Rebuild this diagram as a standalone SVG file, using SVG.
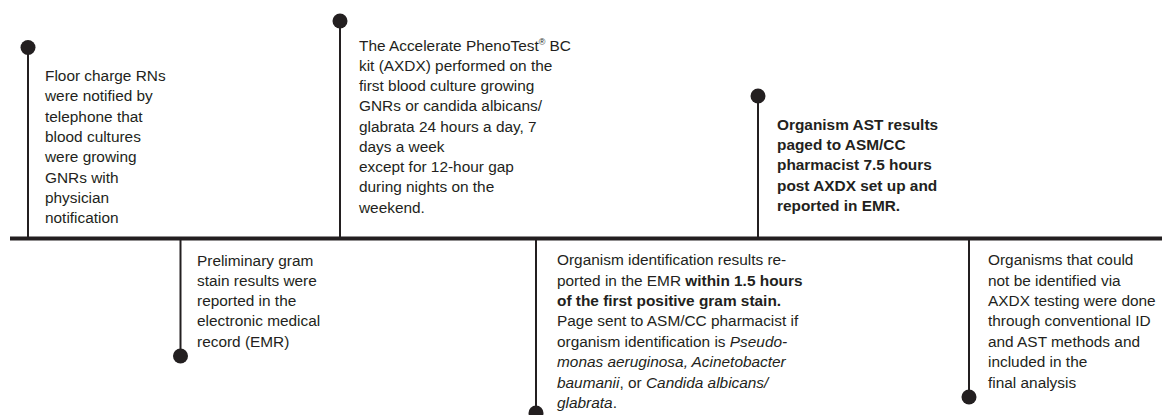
<svg xmlns="http://www.w3.org/2000/svg" width="1162" height="415" viewBox="0 0 1162 415">
<style>
.t{font-family:"Liberation Sans",Arial,sans-serif;font-size:15.4px;fill:#231f20}
.b{font-weight:bold}
.i{font-style:italic}
.stem{stroke:#231f20;stroke-width:2;fill:none}
.dot{fill:#231f20}
.axis{stroke:#231f20;stroke-width:4;fill:none}
</style>
<rect width="1162" height="415" fill="#fff"/>
<g id="connectors">
<line class="axis" x1="10" y1="238.5" x2="1162" y2="238.5"/>
<line class="stem" x1="28" y1="47.5" x2="28" y2="238.5"/>
<line class="stem" x1="180.5" y1="238.5" x2="180.5" y2="356"/>
<line class="stem" x1="340" y1="21" x2="340" y2="238.5"/>
<line class="stem" x1="758" y1="96" x2="758" y2="238.5"/>
<line class="stem" x1="536" y1="238.5" x2="536" y2="413"/>
<line class="stem" x1="969" y1="238.5" x2="969" y2="397"/>
</g>
<g id="node1">
<circle class="dot" cx="28" cy="47.5" r="7.5"/>
<text class="t" x="45" y="81">
<tspan x="45" y="81">Floor charge RNs</tspan>
<tspan x="45" y="101.3">were notified by</tspan>
<tspan x="45" y="121.6">telephone that</tspan>
<tspan x="45" y="141.9">blood cultures</tspan>
<tspan x="45" y="162.2">were growing</tspan>
<tspan x="45" y="182.5">GNRs with</tspan>
<tspan x="45" y="202.8">physician</tspan>
<tspan x="45" y="223.1">notification</tspan>
</text>
</g>
<g id="node2">
<circle class="dot" cx="180.5" cy="356" r="7.5"/>
<text class="t">
<tspan x="197" y="265.5">Preliminary gram</tspan>
<tspan x="197" y="285.8">stain results were</tspan>
<tspan x="197" y="306.1">reported in the</tspan>
<tspan x="197" y="326.4">electronic medical</tspan>
<tspan x="197" y="346.7">record (EMR)</tspan>
</text>
</g>
<g id="node3">
<circle class="dot" cx="340" cy="21" r="7.5"/>
<text class="t">
<tspan x="359" y="50.5">The Accelerate PhenoTest<tspan font-size="9" dy="-6">®</tspan><tspan dy="6"> BC</tspan></tspan>
<tspan x="359" y="70.75">kit (AXDX) performed on the</tspan>
<tspan x="359" y="91">first blood culture growing</tspan>
<tspan x="359" y="111.25">GNRs or candida albicans/</tspan>
<tspan x="359" y="131.5">glabrata 24 hours a day, 7</tspan>
<tspan x="359" y="151.75">days a week</tspan>
<tspan x="359" y="172">except for 12-hour gap</tspan>
<tspan x="359" y="192.25">during nights on the</tspan>
<tspan x="359" y="212.5">weekend.</tspan>
</text>
</g>
<g id="node4">
<circle class="dot" cx="758" cy="96" r="7.5"/>
<text class="t b">
<tspan x="777" y="129.5">Organism AST results</tspan>
<tspan x="777" y="149.9">paged to ASM/CC</tspan>
<tspan x="777" y="170.3">pharmacist 7.5 hours</tspan>
<tspan x="777" y="190.7">post AXDX set up and</tspan>
<tspan x="777" y="211.1">reported in EMR.</tspan>
</text>
</g>
<g id="node5">
<circle class="dot" cx="536" cy="413" r="7.5"/>
<text class="t">
<tspan x="557" y="265.2">Organism identification results re-</tspan>
<tspan x="557" y="285.6">ported in the EMR <tspan class="b">within 1.5 hours</tspan></tspan>
<tspan x="557" y="306" class="b">of the first positive gram stain.</tspan>
<tspan x="557" y="326.4">Page sent to ASM/CC pharmacist if</tspan>
<tspan x="557" y="346.8">organism identification is <tspan class="i">Pseudo-</tspan></tspan>
<tspan x="557" y="367.2" class="i">monas aeruginosa, Acinetobacter</tspan>
<tspan x="557" y="387.6"><tspan class="i">baumanii</tspan>, or <tspan class="i">Candida albicans/</tspan></tspan>
<tspan x="557" y="408"><tspan class="i">glabrata</tspan>.</tspan>
</text>
</g>
<g id="node6">
<circle class="dot" cx="969" cy="397" r="7.5"/>
<text class="t">
<tspan x="988" y="265.2">Organisms that could</tspan>
<tspan x="988" y="285.6">not be identified via</tspan>
<tspan x="988" y="306">AXDX testing were done</tspan>
<tspan x="988" y="326.4">through conventional ID</tspan>
<tspan x="988" y="346.8">and AST methods and</tspan>
<tspan x="988" y="367.2">included in the</tspan>
<tspan x="988" y="387.6">final analysis</tspan>
</text>
</g>
</svg>
